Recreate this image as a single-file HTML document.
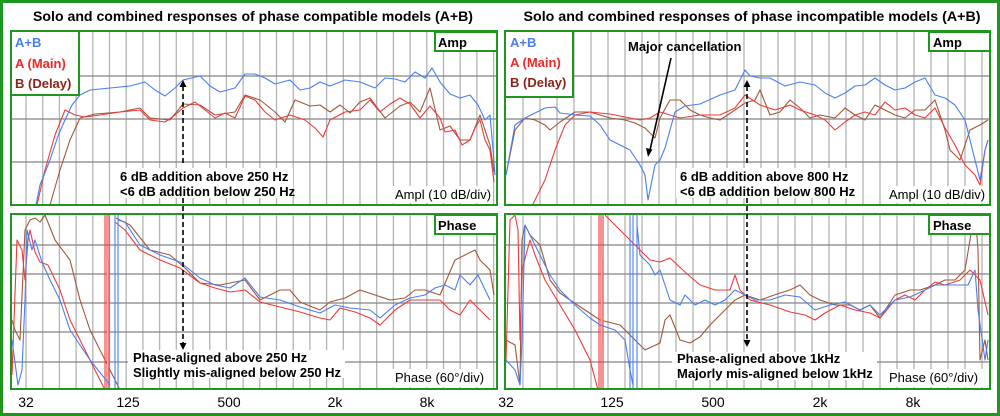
<!DOCTYPE html>
<html><head><meta charset="utf-8"><style>
html,body{margin:0;padding:0;background:#fff}
svg{display:block;font-family:"Liberation Sans",Arial,sans-serif}
</style></head><body>
<svg width="1000" height="416" viewBox="0 0 1000 416" xmlns="http://www.w3.org/2000/svg">
<defs>
<clipPath id="la"><rect x="11" y="31" width="486" height="174"/></clipPath>
<clipPath id="lp"><rect x="11" y="214" width="486" height="175"/></clipPath>
<clipPath id="ra"><rect x="505" y="31" width="485" height="174"/></clipPath>
<clipPath id="rp"><rect x="505" y="214" width="485" height="175"/></clipPath>
</defs>
<rect x="1.5" y="1.5" width="997" height="413" fill="#fff" stroke="#1f961f" stroke-width="3"/>
<text x="253" y="21" font-size="14" font-weight="bold" text-anchor="middle" textLength="440" lengthAdjust="spacingAndGlyphs">Solo and combined responses of phase compatible models (A+B)</text>
<text x="752" y="21" font-size="14" font-weight="bold" text-anchor="middle" textLength="457" lengthAdjust="spacingAndGlyphs">Solo and combined responses of phase incompatible models (A+B)</text>

<g id="grid" stroke-width="1.3">
<g stroke="#b4b4b4">
<path d="M26 31V205M42.7 31V205M59.4 31V205M76.1 31V205M92.8 31V205M109.5 31V205M126.2 31V205M142.9 31V205M159.6 31V205M176.3 31V205M193 31V205M209.7 31V205M226.4 31V205M243.1 31V205M259.8 31V205M276.5 31V205M293.2 31V205M309.9 31V205M326.6 31V205M343.3 31V205M360 31V205M376.7 31V205M393.4 31V205M410.1 31V205M426.8 31V205M443.5 31V205M460.2 31V205M476.9 31V205M493.6 31V205"/>
<path d="M26 214V389M42.7 214V389M59.4 214V389M76.1 214V389M92.8 214V389M109.5 214V389M126.2 214V389M142.9 214V389M159.6 214V389M176.3 214V389M193 214V389M209.7 214V389M226.4 214V389M243.1 214V389M259.8 214V389M276.5 214V389M293.2 214V389M309.9 214V389M326.6 214V389M343.3 214V389M360 214V389M376.7 214V389M393.4 214V389M410.1 214V389M426.8 214V389M443.5 214V389M460.2 214V389M476.9 214V389M493.6 214V389"/>
<path d="M523 31V205M540 31V205M557 31V205M574 31V205M591 31V205M608 31V205M625 31V205M642 31V205M659 31V205M676 31V205M693 31V205M710 31V205M727 31V205M744 31V205M761 31V205M778 31V205M795 31V205M812 31V205M829 31V205M846 31V205M863 31V205M880 31V205M897 31V205M914 31V205M931 31V205M948 31V205M965 31V205M982 31V205"/>
<path d="M523 214V389M540 214V389M557 214V389M574 214V389M591 214V389M608 214V389M625 214V389M642 214V389M659 214V389M676 214V389M693 214V389M710 214V389M727 214V389M744 214V389M761 214V389M778 214V389M795 214V389M812 214V389M829 214V389M846 214V389M863 214V389M880 214V389M897 214V389M914 214V389M931 214V389M948 214V389M965 214V389M982 214V389"/>
</g>
<g stroke="#858585">
<path d="M11 76H497M11 119H497M11 162H497M505 76H990M505 119H990M505 162H990"/>
<path d="M11 245H497M11 274H497M11 303H497M11 332H497M11 362H497M505 245H990M505 274H990M505 303H990M505 332H990M505 362H990"/>
</g>
</g>

<g fill="none" stroke-width="1.1" stroke-linejoin="round">
<g clip-path="url(#la)">
<polyline stroke="#a0583a" points="50,205 60,170 70,140 80,118 95,114 120,112 140,108 150,118 170,120 183,104 200,105 215,115 235,112 245,95 260,100 275,112 285,122 295,100 310,106 320,105 330,112 340,105 350,113 360,102 370,98 385,118 400,106 410,102 420,112 430,88 440,130 450,126 460,140 470,140 480,115 490,145 494,172"/>
<polyline stroke="#f03a3a" points="37,205 45,170 55,135 65,110 75,115 85,117 100,115 120,112 140,110 150,120 165,122 175,115 183,108 195,102 205,110 215,118 225,113 235,118 245,96 255,100 265,112 275,120 290,115 305,120 315,128 323,137 330,120 345,112 360,110 370,100 380,112 390,104 400,98 410,104 420,118 430,106 440,118 445,132 455,130 462,145 470,140 475,128 480,120 485,140 490,150 494,182"/>
<polyline stroke="#4a7ef0" points="35,210 40,185 50,160 58,136 65,120 72,105 80,95 90,90 110,88 130,86 145,82 155,90 165,96 175,88 183,80 200,76 210,86 220,92 235,88 245,74 255,74 265,78 275,84 290,80 300,90 310,88 320,82 330,86 345,80 360,82 375,88 385,78 395,79 405,82 415,72 425,78 432,68 440,82 450,94 460,98 470,95 478,105 485,120 490,115 493,150 495,175"/>
</g>
<g clip-path="url(#lp)">
<polyline stroke="#a0583a" points="12,320 15,330 20,340 25,230 30,220 35,218 40,222 45,215 55,240 70,260 80,300 90,330 110,370 120,390"/>
<polyline stroke="#a0583a" points="116,218 130,225 150,250 170,255 185,268 200,283 220,285 245,280 260,300 280,290 290,290 300,302 320,310 330,302 345,298 360,290 375,295 390,300 405,298 415,290 425,290 440,295 455,260 465,255 475,250 480,260 490,270 494,295"/>
<polyline stroke="#f03a3a" points="12,375 17,240 22,250 25,280 28,240 30,230 35,252 40,262 48,265 60,290 70,320 90,360 100,380 105,390"/>
<path stroke="#f03a3a" d="M105 214V389M107 214V389M109 214V389"/>
<path stroke="#f8b0b0" stroke-width="1.5" d="M107.8 260V389"/>
<polyline stroke="#f03a3a" points="115,222 125,230 140,250 160,260 180,268 200,283 215,288 230,292 245,290 260,302 280,307 300,312 320,318 330,320 340,308 355,312 370,318 380,325 395,310 410,300 420,300 430,300 440,300 450,310 460,315 470,300 480,310 490,320"/>
<polyline stroke="#4a7ef0" points="12,340 18,385 22,370 25,300 27,230 32,250 35,240 42,262 50,280 60,300 70,330 90,360 110,385"/>
<path stroke="#4a7ef0" d="M115 214V389M118 214V389"/>
<polyline stroke="#4a7ef0" points="118,220 125,222 140,245 160,255 180,262 200,278 215,285 230,288 245,278 260,297 280,300 300,307 320,313 335,305 350,308 370,310 380,318 395,305 410,298 425,295 435,288 445,285 455,290 460,275 470,285 478,275 490,300"/>
</g>
<g clip-path="url(#ra)">
<polyline stroke="#a0583a" points="506,175 515,130 525,118 535,120 545,125 550,130 560,122 575,112 590,112 600,115 610,118 625,120 635,123 645,128 655,138 660,118 670,100 680,100 690,110 700,115 710,118 720,120 735,110 745,103 755,100 760,90 770,115 780,112 790,100 800,108 810,118 820,115 835,118 845,108 855,115 865,120 875,105 885,110 895,115 905,118 915,110 925,110 935,100 945,130 950,150 960,160 970,130 980,125 988,120"/>
<polyline stroke="#f03a3a" points="530,210 545,180 555,150 565,125 575,115 590,112 610,114 630,118 640,120 650,118 660,112 680,118 700,115 720,115 735,108 745,95 760,105 775,110 790,105 800,110 815,115 825,120 835,130 845,122 855,115 865,112 875,115 885,102 895,110 905,108 915,115 925,118 935,108 945,128 955,145 965,165 975,175 980,185 985,150 988,140"/>
<polyline stroke="#4a7ef0" points="506,175 515,125 525,118 535,113 545,108 555,107 560,113 575,115 590,116 600,125 610,140 620,145 630,150 640,165 645,175 648,200 655,165 660,160 665,148 670,130 675,112 685,106 700,104 720,95 735,90 740,80 745,70 750,76 760,78 770,78 785,86 800,82 815,85 825,93 835,98 845,93 855,86 865,85 875,78 885,85 895,90 905,88 915,82 925,78 935,95 945,98 955,105 965,120 975,160 980,180 985,150 988,140"/>
</g>
<g clip-path="url(#rp)">
<polyline stroke="#a0583a" points="506,340 515,345 520,385 522,240 525,225 530,235 540,245 550,280 560,293 570,300 585,310 600,320 620,325 635,340 645,350 660,343 665,320 670,315 680,340 690,343 700,337 710,325 720,315 735,300 745,295 760,300 780,293 790,290 800,285 810,295 820,300 835,305 850,305 860,310 870,305 880,318 895,295 910,290 920,290 935,285 945,280 955,280 965,270 970,240 975,210 978,250 980,360 985,340 988,360"/>
<polyline stroke="#f03a3a" points="506,360 510,220 515,215 518,230 520,340 522,270 530,240 535,255 545,280 560,305 575,330 590,360 598,390"/>
<path stroke="#f03a3a" d="M599 214V389M601 214V389M603 214V389"/>
<path stroke="#f8b0b0" stroke-width="1.5" d="M601.8 258V345"/>
<polyline stroke="#f03a3a" points="605,215 620,230 640,250 650,260 660,262 670,258 685,272 700,285 715,290 730,290 735,275 740,290 750,300 770,305 790,312 805,315 815,320 825,313 840,305 855,310 870,313 880,318 895,300 905,295 915,300 925,290 935,282 945,285 960,280 970,270 980,280 988,315"/>
<polyline stroke="#4a7ef0" points="506,360 515,370 520,385 522,340 525,225 530,235 540,255 550,275 560,290 575,305 590,318 600,325 615,330 625,340 630,370 633,385"/>
<path stroke="#4a7ef0" d="M630 214V389M633 214V389M637 214V389"/>
<polyline stroke="#4a7ef0" points="637,225 640,255 650,265 655,275 660,270 665,285 670,300 680,305 685,295 695,305 705,300 715,305 725,300 735,290 745,295 755,300 770,300 785,295 800,297 815,310 830,305 845,302 860,310 870,305 880,315 895,300 910,297 925,290 935,285 945,285 960,285 968,285 975,270 978,310 985,360 988,340"/>
</g>
</g>

<g fill="none" stroke="#1f961f" stroke-width="2">
<rect x="11" y="31" width="486" height="174"/>
<rect x="11" y="214" width="486" height="175"/>
<rect x="505" y="31" width="485" height="174"/>
<rect x="505" y="214" width="485" height="175"/>
</g>
<rect x="11" y="31" width="68" height="64" fill="#fff" stroke="#1f961f" stroke-width="2"/>
<rect x="505" y="31" width="68" height="66" fill="#fff" stroke="#1f961f" stroke-width="2"/>
<g font-size="13" font-weight="bold">
<text x="15" y="47" fill="#4a7ef0">A+B</text>
<text x="15" y="68" fill="#f02828">A (Main)</text>
<text x="15" y="88" fill="#8b2418">B (Delay)</text>
<text x="510" y="47" fill="#4a7ef0">A+B</text>
<text x="510" y="67" fill="#f02828">A (Main)</text>
<text x="510" y="87" fill="#8b2418">B (Delay)</text>
</g>
<g fill="#fff" stroke="#1f961f" stroke-width="2">
<rect x="435" y="32" width="62" height="19"/>
<rect x="435" y="215" width="62" height="19"/>
<rect x="929" y="32" width="61" height="19"/>
<rect x="929" y="215" width="61" height="19"/>
</g>
<g font-size="13" font-weight="bold">
<text x="438" y="47">Amp</text><text x="438" y="230">Phase</text>
<text x="933" y="47">Amp</text><text x="933" y="230">Phase</text>
</g>
<g fill="#fff">
<rect x="117" y="168" width="176" height="30"/>
<rect x="128" y="350" width="217" height="28"/>
<rect x="676" y="168" width="178" height="30"/>
<rect x="672" y="352" width="205" height="28"/>
<rect x="392" y="186" width="100" height="17"/>
<rect x="392" y="369" width="100" height="18"/>
<rect x="886" y="186" width="102" height="17"/>
<rect x="886" y="369" width="102" height="18"/>
</g>
<g font-size="13">
<text x="395" y="199">Ampl (10 dB/div)</text>
<text x="395" y="382">Phase (60°/div)</text>
<text x="889" y="199">Ampl (10 dB/div)</text>
<text x="889" y="382">Phase (60°/div)</text>
</g>
<g font-size="13" font-weight="bold">
<text x="120" y="181">6 dB addition above 250 Hz</text>
<text x="120" y="196">&lt;6 dB addition below 250 Hz</text>
<text x="133" y="362">Phase-aligned above 250 Hz</text>
<text x="133" y="377">Slightly mis-aligned below 250 Hz</text>
<text x="680" y="181">6 dB addition above 800 Hz</text>
<text x="680" y="196">&lt;6 dB addition below 800 Hz</text>
<text x="677" y="363">Phase-aligned above 1kHz</text>
<text x="677" y="378">Majorly mis-aligned below 1kHz</text>
<text x="628" y="51">Major cancellation</text>
</g>
<g stroke="#000" stroke-width="1.6" fill="none">
<path d="M183 86V166M183 198V345" stroke-dasharray="5,3"/>
<path d="M747 86V166M747 198V342" stroke-dasharray="5,3"/>
<path d="M671 58L650 150"/>
</g>
<g fill="#000">
<path d="M183 80l-3.5 7h7z"/><path d="M183 350l-3.5 -7h7z"/>
<path d="M747 80l-3.5 7h7z"/><path d="M747 347l-3.5 -7h7z"/>
<path d="M648 157l-2 -9 6.5 1.5z"/>
</g>
<g font-size="14" text-anchor="middle">
<text x="26" y="407">32</text><text x="128" y="407">125</text><text x="229" y="407">500</text><text x="335" y="407">2k</text><text x="427" y="407">8k</text>
<text x="506" y="407">32</text><text x="612" y="407">125</text><text x="713" y="407">500</text><text x="820" y="407">2k</text><text x="913" y="407">8k</text>
</g>
</svg>
</body></html>
